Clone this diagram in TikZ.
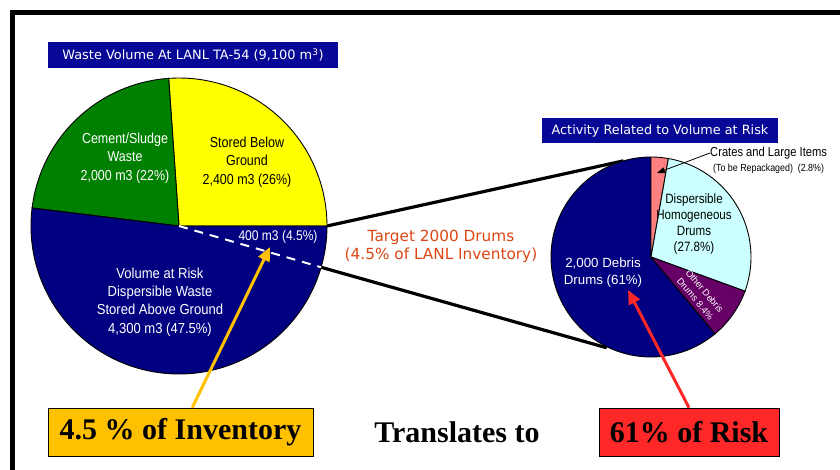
\documentclass[tikz,border=0pt]{standalone}
\usepackage{fontspec}
\setmainfont{Liberation Serif}
\newfontfamily\narrow[FakeStretch=0.86]{Liberation Sans}
\newfontfamily\semin[FakeStretch=0.9]{Liberation Sans}
\newfontfamily\plainsans{Liberation Sans}
\newfontfamily\verd{DejaVu Sans}
\usetikzlibrary{arrows.meta,calc}
\definecolor{pienavy}{RGB}{0,0,128}
\definecolor{boxnavy}{RGB}{8,8,150}
\definecolor{piegreen}{RGB}{0,128,0}
\definecolor{pieyellow}{RGB}{255,255,0}
\definecolor{piepink}{RGB}{255,128,128}
\definecolor{piecyan}{RGB}{204,255,255}
\definecolor{piepurple}{RGB}{102,0,102}
\definecolor{targetorange}{RGB}{220,70,20}
\definecolor{gold}{RGB}{255,192,0}
\definecolor{riskred}{RGB}{255,40,40}
\tikzset{
  slice/.style={draw=black, line width=0.9pt},
  titlebox/.style={fill=boxnavy, text=white, inner sep=0pt},
  lbl/.style={align=center, inner sep=0pt},
  bigbox/.style={draw=black, line width=0.6pt, inner sep=0pt, minimum height=48pt, font=\bfseries\fontsize{30}{34}\selectfont},
  zoomline/.style={line width=3.2pt, black},
  bigarrow/.style={line width=3pt, -{Triangle[length=14pt,width=12pt]}}
}
\begin{document}
\begin{tikzpicture}[x=1pt,y=-1pt]
\useasboundingbox (0,0) rectangle (840,470);
\fill[white] (0,0) rectangle (840,470);
% frame
\draw[line width=5pt] (12.5,470) -- (12.5,12.5) -- (840,12.5);

% centres
\coordinate (Lc) at (179,226);
\coordinate (Rc) at (651,257);
\path (Lc) ++(0:148pt) coordinate (L0);
\path (Lc) ++(-16.2:148pt) coordinate (L1);
\path (Rc) ++(106:100pt) coordinate (R0);
\path (Rc) ++(244:101pt) coordinate (R1);

% zoom connectors
\draw[zoomline] (L0) -- (R0);
\draw[zoomline] (L1) -- (R1);

% left pie
\draw[slice, fill=pieyellow] (Lc) -- ++(0:148pt) arc[start angle=0, end angle=94, radius=148pt] -- cycle;
\draw[slice, fill=piegreen] (Lc) -- ++(94:148pt) arc[start angle=94, end angle=173, radius=148pt] -- cycle;
\draw[slice, fill=pienavy] (Lc) -- ++(173:148pt) arc[start angle=173, end angle=360, radius=148pt] -- cycle;
\draw[white, line width=2pt, dash pattern=on 9pt off 7pt] (Lc) -- (L1);

% right pie
\draw[slice, fill=pienavy] (Rc) -- ++(90:100pt) arc[start angle=90, end angle=309.8, radius=100pt] -- cycle;
\draw[slice, fill=piepink] (Rc) -- ++(80:100pt) arc[start angle=80, end angle=90, radius=100pt] -- cycle;
\draw[slice, fill=piecyan] (Rc) -- ++(-20:100pt) arc[start angle=-20, end angle=80, radius=100pt] -- cycle;
\draw[slice, fill=piepurple] (Rc) -- ++(-50.2:100pt) arc[start angle=-50.2, end angle=-20, radius=100pt] -- cycle;

% titles
\node[titlebox, minimum width=290pt, minimum height=26pt, font=\verd\fontsize{12.9}{14}\selectfont] (t1) at (193,55) {Waste Volume At LANL TA-54 (9,100 m\textsuperscript{3})};
\node[titlebox, minimum width=236pt, minimum height=25pt, font=\verd\fontsize{12.8}{14}\selectfont] (t2) at (660,130.5) {Activity Related to Volume at Risk};

% left pie labels
\node[lbl, text=white, font=\narrow\fontsize{14.5}{18.5}\selectfont] (cem) at (125,158) {Cement/Sludge\\Waste\\2,000 m3 (22\%)};
\node[lbl, text=black, font=\narrow\fontsize{14.5}{18.5}\selectfont] (sbg) at (247,162) {Stored Below\\Ground\\2,400 m3 (26\%)};
\node[lbl, text=white, font=\narrow\fontsize{14}{17}\selectfont] (four) at (278,237) {400 m3 (4.5\%)};
\node[lbl, text=white, font=\semin\fontsize{14.5}{18.3}\selectfont] (var) at (160,302) {Volume at Risk\\Dispersible Waste\\Stored Above Ground\\4,300 m3 (47.5\%)};

% target text
\node[lbl, text=targetorange, font=\verd\fontsize{15.3}{18}\selectfont] (tgt) at (441,246) {Target 2000 Drums\\(4.5\% of LANL Inventory)};

% right pie labels
\node[lbl, text=black, font=\narrow\fontsize{13.5}{16}\selectfont] (dhd) at (694,224) {Dispersible\\Homogeneous\\Drums\\(27.8\%)};
\node[lbl, text=white, font=\plainsans\fontsize{13.3}{17}\selectfont] (dd) at (603,272.5) {2,000 Debris\\Drums (61\%)};
\node[lbl, text=white, rotate=-50, font=\plainsans\fontsize{9.3}{12}\selectfont] (odd) at (700,295) {Other Debris\\Drums 8.4\%};
\node[lbl, text=black, anchor=west, font=\narrow\fontsize{13}{15}\selectfont] (cr) at (710,153) {Crates and Large Items};
\node[lbl, text=black, anchor=west, font=\narrow\fontsize{10.3}{11}\selectfont] (cr2) at (713,169) {(To be Repackaged)~~(2.8\%)};
\coordinate (crtip) at (657,173);
\draw[black, line width=0.8pt, -{Triangle[length=8pt,width=6pt]}] (cr.west) -- (crtip);

% bottom boxes
\node[bigbox, fill=gold, minimum width=265pt] (yb) at (180.5,432) {4.5 \% of Inventory};
\node[lbl, font=\bfseries\fontsize{30}{34}\selectfont] (tr) at (457,432) {Translates to};
\node[bigbox, fill=riskred, minimum width=180pt] (rb) at (689,432) {61\% of Risk};

% arrows
\coordinate (ytip) at (270,247);
\coordinate (rtip) at (628,290);
\draw[bigarrow, gold] (yb) -- (ytip);
\draw[bigarrow, riskred] (rb.north) -- (rtip);
\end{tikzpicture}
\end{document}
